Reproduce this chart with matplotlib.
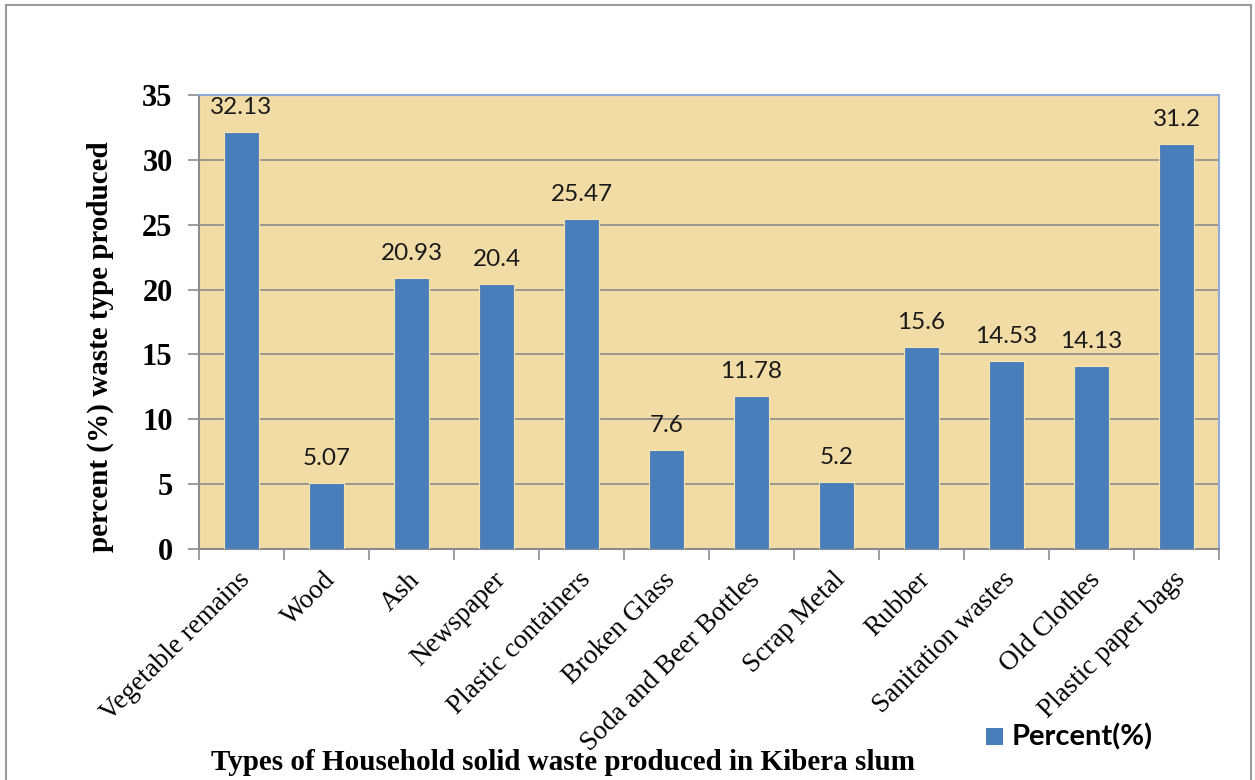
import matplotlib
matplotlib.use("Agg")
import matplotlib.pyplot as plt
from matplotlib.patches import Rectangle

categories = ["Vegetable remains", "Wood", "Ash", "Newspaper", "Plastic containers",
              "Broken Glass", "Soda and Beer Bottles", "Scrap Metal", "Rubber",
              "Sanitation wastes", "Old Clothes", "Plastic paper bags"]
values = [32.13, 5.07, 20.93, 20.4, 25.47, 7.6, 11.78, 5.2, 15.6, 14.53, 14.13, 31.2]
value_labels = ["32.13", "5.07", "20.93", "20.4", "25.47", "7.6", "11.78", "5.2",
                "15.6", "14.53", "14.13", "31.2"]
yticks = [0, 5, 10, 15, 20, 25, 30, 35]
series_name = "Percent(%)"

W, H = 1255, 780
fig = plt.figure(figsize=(W / 100, H / 100), dpi=100)
fig.patch.set_facecolor("white")

# outer chart border
fig.add_artist(Rectangle((6 / W, -0.01), (W - 10) / W, 1 - 5 / H + 0.01,
                         transform=fig.transFigure, fill=False,
                         edgecolor="#9a9a9a", linewidth=1.5))

ax = fig.add_axes([199 / W, 1 - 549 / H, (1219 - 199) / W, (549 - 95) / H])
ax.set_facecolor("#F1DCA6")

x = list(range(len(categories)))
ax.bar(x, values, width=0.41, color="#4A7EBB", edgecolor="#F5E3B0",
       linewidth=0.8, zorder=3)

ax.set_xlim(-0.5, len(categories) - 0.5)
ax.set_ylim(0, 35)
ax.set_yticks(yticks)
ax.set_yticklabels([str(t) for t in yticks], fontfamily="Liberation Serif",
                   fontweight="bold", fontsize=22)
ax.yaxis.grid(True, color="#8c8c8c", linewidth=1.2, zorder=1)
ax.tick_params(axis="y", length=8, width=1.2, color="#8c8c8c", pad=11, direction="out")

# category ticks at boundaries
ax.set_xticks([i + 0.5 for i in range(-1, len(categories))])
ax.set_xticklabels([])
ax.tick_params(axis="x", length=8, width=1.2, color="#8c8c8c", direction="out")
for i, c in enumerate(categories):
    ax.annotate(c, xy=(i, 0), xycoords=("data", "axes fraction"),
                xytext=(5, -27), textcoords="offset pixels",
                rotation=45, ha="right", va="center", rotation_mode="anchor",
                fontfamily="Liberation Serif", fontsize=19.5)

for sp in ["left", "bottom"]:
    ax.spines[sp].set_color("#8c8c8c")
    ax.spines[sp].set_linewidth(1.5)
for sp in ["top", "right"]:
    ax.spines[sp].set_color("#8EAADB")
    ax.spines[sp].set_linewidth(1.5)

for i, (v, lab) in enumerate(zip(values, value_labels)):
    ax.annotate(lab, xy=(i, v), xytext=(0, 14), textcoords="offset pixels",
                ha="center", va="bottom", fontfamily="Lato", fontsize=17.5,
                color="#1a1a1a", zorder=4)

fig.text(100 / W, 1 - 347 / H, "percent (%) waste type produced", rotation=90,
         ha="center", va="center", fontfamily="Liberation Serif",
         fontweight="bold", fontsize=21)
fig.text(563 / W, 1 - 762 / H, "Types of Household solid waste produced in Kibera slum",
         ha="center", va="center", fontfamily="Liberation Serif",
         fontweight="bold", fontsize=21)

# legend
fig.add_artist(Rectangle((986 / W, 1 - 745 / H), 17 / W, 17 / H,
                         transform=fig.transFigure, facecolor="#4A7EBB",
                         edgecolor="none"))
fig.text(1012 / W, 1 - 737 / H, series_name, ha="left", va="center",
         fontfamily="Lato", fontweight="bold", fontsize=21)

fig.savefig("out.png", dpi=100)
